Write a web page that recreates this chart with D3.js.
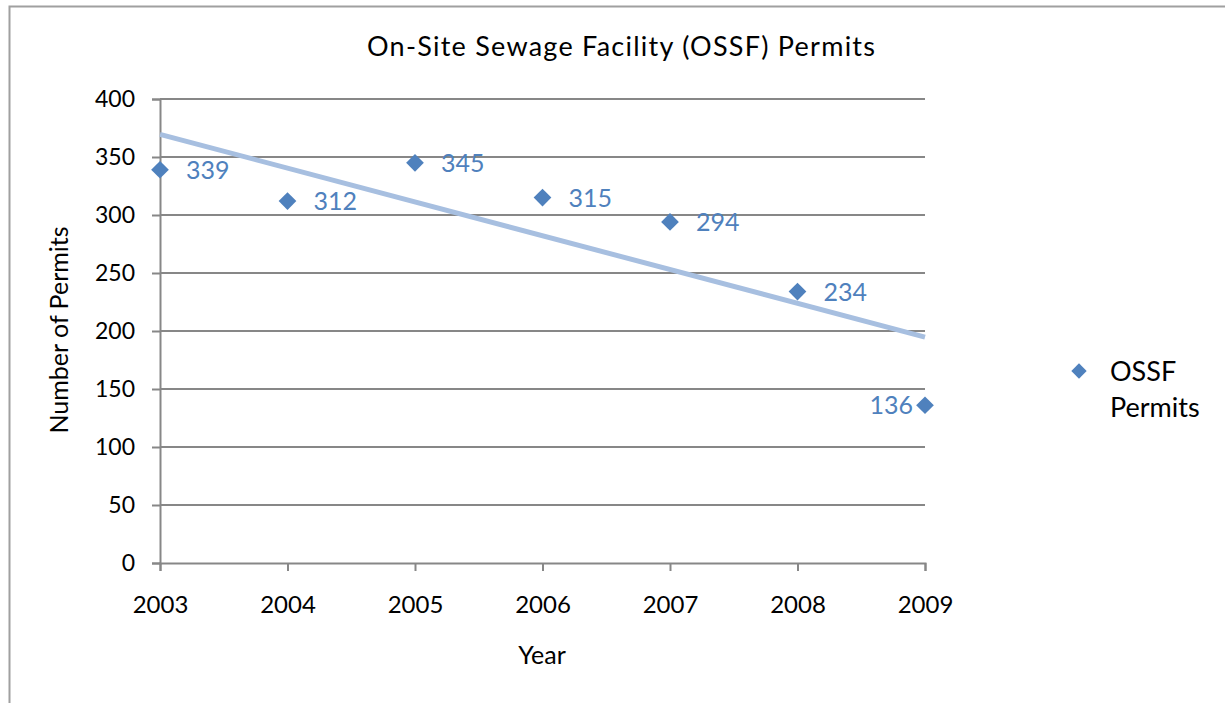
<!DOCTYPE html>
<html>
<head>
<meta charset="utf-8">
<script src="https://d3js.org/d3.v7.min.js"></script>
<style>
  body { margin: 0; background: #fff; }
  text { font-family: Lato, "Open Sans", sans-serif; }
</style>
</head>
<body>
<script>
// data
var years = [2003, 2004, 2005, 2006, 2007, 2008, 2009];
var permits = [339, 312, 345, 315, 294, 234, 136];
var yTicks = [0, 50, 100, 150, 200, 250, 300, 350, 400];
var seriesName = ["OSSF", "Permits"];

var svgWidth = 1225;
var svgHeight = 703;

var svg = d3.select("body").append("svg")
  .attr("width", svgWidth)
  .attr("height", svgHeight);

// outer chart border (runs off right and bottom edges)
svg.append("rect")
  .attr("x", 9.5).attr("y", 6.5)
  .attr("width", 1300).attr("height", 800)
  .attr("fill", "none")
  .attr("stroke", "#a0a0a0")
  .attr("stroke-width", 2);

var x = d3.scaleLinear().domain([2003, 2009]).range([160, 925]);
var y = d3.scaleLinear().domain([0, 400]).range([563, 99]);

// gridlines
svg.append("g")
  .selectAll("line")
  .data(yTicks.filter(d => d > 0))
  .enter().append("line")
  .attr("x1", x(2003)).attr("x2", x(2009))
  .attr("y1", d => y(d)).attr("y2", d => y(d))
  .attr("stroke", "#878787")
  .attr("stroke-width", 2);

// y axis
var leftAxis = d3.axisLeft(y).tickValues(yTicks).tickSize(8).tickPadding(17).tickFormat(d3.format("d"));
var gy = svg.append("g")
  .attr("transform", `translate(${x(2003)},0)`)
  .call(leftAxis);
gy.select(".domain").attr("stroke", "#878787").attr("stroke-width", 2);
gy.selectAll(".tick line").attr("stroke", "#878787").attr("stroke-width", 2);
gy.selectAll(".tick text").attr("font-size", 23).attr("fill", "#000")
  .style("font-family", "Lato");

// x axis
var bottomAxis = d3.axisBottom(x).tickValues(years).tickSize(8).tickPadding(25).tickFormat(d3.format("d"));
var gx = svg.append("g")
  .attr("transform", `translate(0,${y(0)})`)
  .call(bottomAxis);
gx.select(".domain").attr("stroke", "#878787").attr("stroke-width", 2);
gx.selectAll(".tick line").attr("stroke", "#878787").attr("stroke-width", 2);
gx.selectAll(".tick text").attr("font-size", 24).attr("fill", "#000")
  .style("font-family", "Lato");

// linear trendline (least squares)
var mx = d3.mean(years), my = d3.mean(permits);
var sxy = d3.sum(years, (d, i) => (d - mx) * (permits[i] - my));
var sxx = d3.sum(years, d => (d - mx) * (d - mx));
var slope = sxy / sxx;
var trend = d => my + slope * (d - mx);

svg.append("line")
  .attr("x1", x(2003)).attr("y1", y(trend(2003)))
  .attr("x2", x(2009)).attr("y2", y(trend(2009)))
  .attr("stroke", "#a7bfe0")
  .attr("stroke-width", 5);

// markers
var pts = years.map((d, i) => ({year: d, value: permits[i]}));
var diamond = d3.symbol().type(d3.symbolDiamond2).size(200);

svg.append("g")
  .selectAll("path")
  .data(pts)
  .enter().append("path")
  .attr("d", diamond)
  .attr("transform", d => `translate(${x(d.year)},${y(d.value)})`)
  .attr("fill", "#4f81bd");

// data labels
svg.append("g")
  .selectAll("text")
  .data(pts)
  .enter().append("text")
  .attr("x", (d, i) => i === pts.length - 1 ? x(d.year) - 12 : x(d.year) + 26)
  .attr("y", d => y(d.value))
  .attr("dy", "0.36em")
  .attr("text-anchor", (d, i) => i === pts.length - 1 ? "end" : "start")
  .attr("font-size", 25)
  .attr("fill", "#4f81bd")
  .text(d => d.value);

// title
svg.append("text")
  .attr("x", 367).attr("y", 56)
  .attr("textLength", 508)
  .attr("lengthAdjust", "spacing")
  .attr("font-size", 27)
  .attr("fill", "#000")
  .text("On-Site Sewage Facility (OSSF) Permits");

// axis titles
svg.append("text")
  .attr("x", 542).attr("y", 664)
  .attr("text-anchor", "middle")
  .attr("font-size", 25)
  .text("Year");

svg.append("text")
  .attr("transform", "translate(68,330) rotate(-90)")
  .attr("text-anchor", "middle")
  .attr("font-size", 25)
  .text("Number of Permits");

// legend
var legend = svg.append("g").attr("transform", "translate(1079,371)");
legend.append("path")
  .attr("d", d3.symbol().type(d3.symbolDiamond2).size(150))
  .attr("fill", "#4f81bd");
legend.selectAll("text")
  .data(seriesName)
  .enter().append("text")
  .attr("x", 31)
  .attr("y", (d, i) => i * 36)
  .attr("dy", "0.36em")
  .attr("font-size", 27)
  .text(d => d);
</script>
</body>
</html>
